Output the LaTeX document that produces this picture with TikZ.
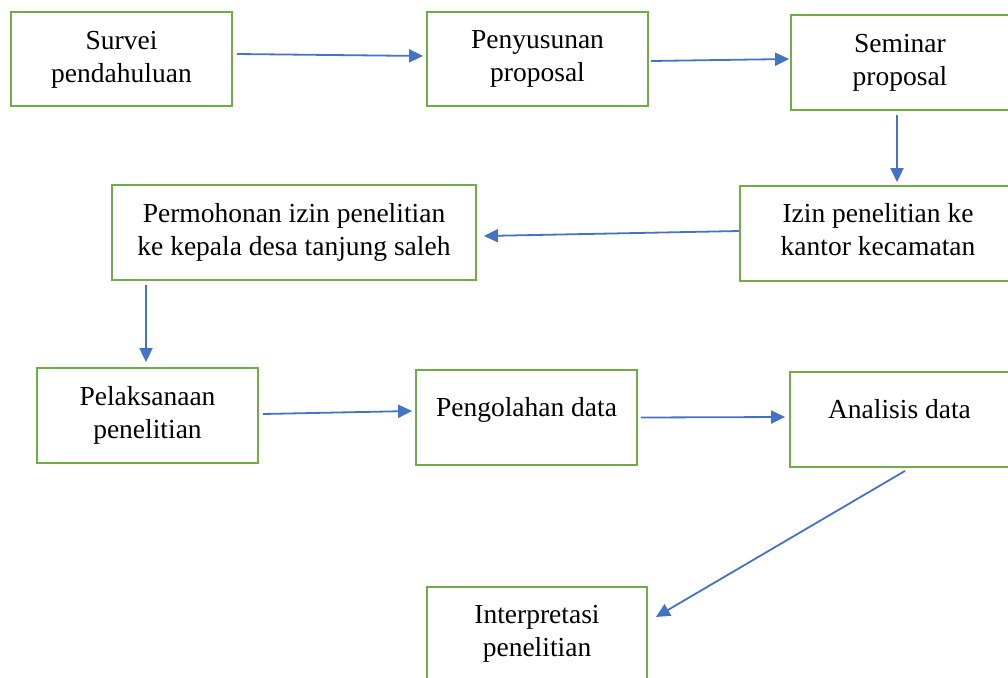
\documentclass[tikz,border=0pt]{standalone}
\usepackage{fontspec}
\setmainfont{Liberation Serif}
\usetikzlibrary{arrows.meta,calc}
\definecolor{boxgreen}{RGB}{112,173,71}
\definecolor{arrowblue}{RGB}{68,114,196}
\begin{document}
\begin{tikzpicture}[x=1pt,y=-1pt,
  box/.style={draw=boxgreen,line width=1.8pt,rectangle,inner sep=0pt},
  txt/.style={align=center,inner sep=0pt,font=\fontsize{27.5}{33}\selectfont},
  conn/.style={draw=arrowblue,line width=1.8pt,-{Triangle[length=14pt,width=13pt]}}]
\useasboundingbox (0,0) rectangle (1008,677);
% boxes
\node[box,minimum width=221pt,minimum height=94pt] (s1) at (121.5,59) {};
\node[box,minimum width=221pt,minimum height=94pt] (s2) at (537.5,59) {};
\node[box,minimum width=218pt,minimum height=95pt] (s3) at (900,62.5) {};
\node[box,minimum width=276pt,minimum height=95pt] (s4) at (878,233.5) {};
\node[box,minimum width=364pt,minimum height=95pt] (s5) at (294,232.5) {};
\node[box,minimum width=221pt,minimum height=95pt] (s6) at (147.5,415.5) {};
\node[box,minimum width=221pt,minimum height=95pt] (s7) at (526.5,417.5) {};
\node[box,minimum width=220pt,minimum height=95pt] (s8) at (900,419.5) {};
\node[box,minimum width=220pt,minimum height=95pt] (s9) at (537,634.5) {};
% texts
\node[txt] (t1) at (121.5,59.5) {\strut Survei\\\strut pendahuluan};
\node[txt] (t2) at (537.5,58) {\strut Penyusunan\\\strut proposal};
\node[txt] (t3) at (900,62.5) {\strut Seminar\\\strut proposal};
\node[txt] (t4) at (878,232) {\strut Izin penelitian ke\\\strut kantor kecamatan};
\node[txt] (t5) at (294,232) {\strut Permohonan izin penelitian\\\strut ke kepala desa tanjung saleh};
\node[txt] (t6) at (147.5,415) {\strut Pelaksanaan\\\strut penelitian};
\node[txt] (t7) at (526.5,410) {\strut Pengolahan data};
\node[txt] (t8) at (899.5,412) {\strut Analisis data};
\node[txt] (t9) at (537,633.5) {\strut Interpretasi\\\strut penelitian};
% connectors
\draw[conn] ($(s1.east)+(4,-5)$) -- ($(s2.west)+(-3,-3)$);
\draw[conn] ($(s2.east)+(2,2)$) -- ($(s3.west)+(-1,-3.5)$);
\draw[conn] ($(s3.south)+(-3,4)$) -- ($(s4.north)+(19,-3)$);
\draw[conn] ($(s4.west)+(0,-2.5)$) -- ($(s5.east)+(7,3.5)$);
\draw[conn] ($(s5.south)+(-148,4)$) -- ($(s6.north)+(-1.5,-5)$);
\draw[conn] ($(s6.east)+(4,-1.5)$) -- ($(s7.west)+(-3,-6.5)$);
\draw[conn] ($(s7.east)+(3,0)$) -- ($(s8.west)+(-4,-2.5)$);
\draw[conn] ($(s8.south)+(5,3)$) -- ($(s9.east)+(8,-17.5)$);
\end{tikzpicture}
\end{document}
